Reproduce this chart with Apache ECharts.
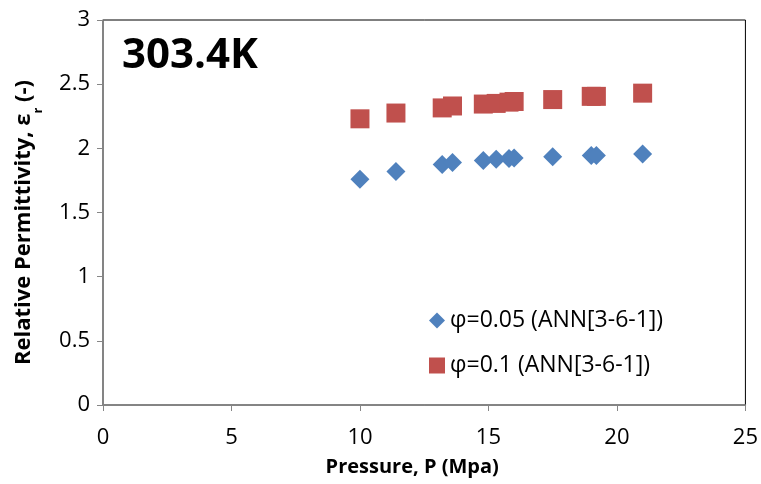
<!DOCTYPE html>
<html>
<head>
<meta charset="utf-8">
<script src="https://cdn.jsdelivr.net/npm/echarts@6/dist/echarts.min.js"></script>
<style>
  html, body { margin: 0; padding: 0; background: #fff; }
  #main { width: 761px; height: 484px; }
</style>
</head>
<body>
<div id="main"></div>
<script>
// pressure values (MPa)
var pressure = [10.0, 11.4, 13.2, 13.6, 14.8, 15.3, 15.8, 16.0, 17.5, 19.0, 19.2, 21.0];
// relative permittivity, phi = 0.05
var phi005 = [1.76, 1.82, 1.875, 1.89, 1.905, 1.915, 1.92, 1.925, 1.935, 1.945, 1.945, 1.955];
// relative permittivity, phi = 0.1
var phi01 = [2.23, 2.275, 2.315, 2.33, 2.345, 2.35, 2.36, 2.365, 2.38, 2.405, 2.405, 2.43];
var seriesNames = ['φ=0.05 (ANN[3-6-1])', 'φ=0.1 (ANN[3-6-1])'];

function pairs(xs, ys) {
    var out = [];
    for (var i = 0; i < xs.length; i++) out.push([xs[i], ys[i]]);
    return out;
}

var font = 'Open Sans';
var myChart = echarts.init(document.getElementById('main'));
var option = {
    color: ['#4F81BD', '#C0504D'],
    animation: false,
    textStyle: { fontFamily: font },
    title: {
        text: '303.4K',
        left: 117,
        top: 30,
        textStyle: { fontSize: 42, fontWeight: 'bold', color: '#000', fontFamily: font }
    },
    legend: {
        orient: 'vertical',
        left: 424,
        top: 304,
        itemGap: 22,
        itemWidth: 16,
        itemHeight: 16,
        textStyle: { fontSize: 23, color: '#000', fontFamily: font },
        data: [
            { name: seriesNames[0], icon: 'diamond' },
            { name: seriesNames[1], icon: 'rect' }
        ]
    },
    grid: {
        left: 103, right: 15, top: 20, bottom: 79,
        show: true, borderColor: '#000', borderWidth: 1
    },
    xAxis: {
        type: 'value',
        min: 0, max: 25, interval: 5,
        name: 'Pressure, P (Mpa)',
        nameLocation: 'middle',
        nameGap: 52,
        nameTextStyle: { fontSize: 20, fontWeight: 'bold', color: '#000', padding: [0, 24, 0, 0] },
        axisLine: { lineStyle: { color: '#868686', width: 1.5 } },
        axisTick: { show: true, length: 6, lineStyle: { color: '#868686' } },
        axisLabel: { fontSize: 22, color: '#000', margin: 22 },
        splitLine: { show: false }
    },
    yAxis: {
        type: 'value',
        min: 0, max: 3, interval: 0.5,
        name: '{a|Relative Permittivity, ε}{s|r}{a| (-)}',
        nameLocation: 'middle',
        nameGap: 68,
        nameTextStyle: {
            padding: [0, 20, 0, 0],
            rich: {
                a: { fontSize: 22, fontWeight: 'bold', color: '#000', fontFamily: font },
                s: { fontSize: 13, fontWeight: 'bold', color: '#000', fontFamily: font, verticalAlign: 'bottom', padding: [0, 0, -10, 0] }
            }
        },
        axisLine: { show: true, lineStyle: { color: '#868686', width: 1.5 } },
        axisTick: { show: true, length: 6, lineStyle: { color: '#868686' } },
        axisLabel: { fontSize: 22, color: '#000', margin: 13 },
        splitLine: { show: false }
    },
    series: [
        {
            name: seriesNames[0],
            type: 'scatter',
            symbol: 'diamond',
            symbolSize: 19,
            itemStyle: { opacity: 1 },
            data: pairs(pressure, phi005)
        },
        {
            name: seriesNames[1],
            type: 'scatter',
            symbol: 'rect',
            symbolSize: 19,
            itemStyle: { opacity: 1 },
            data: pairs(pressure, phi01)
        }
    ]
};
myChart.setOption(option);
</script>
</body>
</html>
